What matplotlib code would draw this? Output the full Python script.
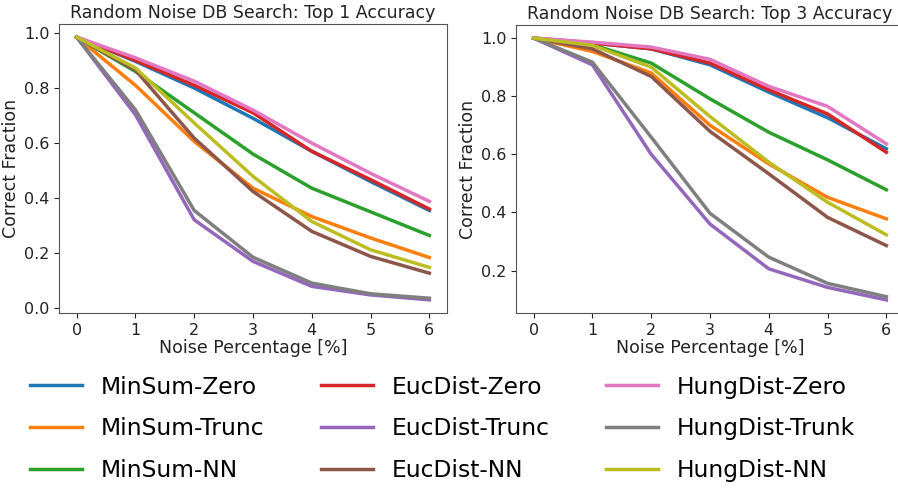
import matplotlib
matplotlib.use("Agg")
import matplotlib.pyplot as plt

# Noise levels (x axis)
noise = [0, 1, 2, 3, 4, 5, 6]

labels = ["MinSum-Zero", "MinSum-Trunc", "MinSum-NN",
          "EucDist-Zero", "EucDist-Trunc", "EucDist-NN",
          "HungDist-Zero", "HungDist-Trunk", "HungDist-NN"]
colors = ["C0", "C1", "C2", "C3", "C4", "C5", "C6", "C7", "C8"]

# Top 1 accuracy
top1_minsum_zero = [0.985, 0.897, 0.800, 0.690, 0.570, 0.460, 0.355]
top1_minsum_trunc = [0.985, 0.810, 0.606, 0.436, 0.333, 0.255, 0.184]
top1_minsum_nn = [0.985, 0.860, 0.710, 0.560, 0.436, 0.350, 0.264]
top1_eucdist_zero = [0.985, 0.900, 0.810, 0.710, 0.570, 0.467, 0.360]
top1_eucdist_trunc = [0.985, 0.703, 0.321, 0.170, 0.079, 0.048, 0.030]
top1_eucdist_nn = [0.985, 0.865, 0.618, 0.424, 0.279, 0.188, 0.127]
top1_hungdist_zero = [0.985, 0.910, 0.825, 0.720, 0.600, 0.490, 0.388]
top1_hungdist_trunk = [0.985, 0.721, 0.355, 0.185, 0.091, 0.052, 0.036]
top1_hungdist_nn = [0.985, 0.873, 0.673, 0.479, 0.315, 0.212, 0.148]

# Top 3 accuracy
top3_minsum_zero = [1.0, 0.983, 0.963, 0.908, 0.814, 0.726, 0.619]
top3_minsum_trunc = [1.0, 0.954, 0.880, 0.700, 0.567, 0.452, 0.378]
top3_minsum_nn = [1.0, 0.977, 0.914, 0.791, 0.676, 0.581, 0.478]
top3_eucdist_zero = [1.0, 0.983, 0.963, 0.914, 0.822, 0.739, 0.607]
top3_eucdist_trunc = [1.0, 0.908, 0.600, 0.360, 0.206, 0.142, 0.099]
top3_eucdist_nn = [1.0, 0.963, 0.868, 0.679, 0.533, 0.383, 0.286]
top3_hungdist_zero = [1.0, 0.986, 0.969, 0.927, 0.834, 0.765, 0.636]
top3_hungdist_trunk = [1.0, 0.917, 0.659, 0.397, 0.246, 0.156, 0.110]
top3_hungdist_nn = [1.0, 0.975, 0.900, 0.730, 0.573, 0.435, 0.323]

top1 = [top1_minsum_zero, top1_minsum_trunc, top1_minsum_nn,
        top1_eucdist_zero, top1_eucdist_trunc, top1_eucdist_nn,
        top1_hungdist_zero, top1_hungdist_trunk, top1_hungdist_nn]
top3 = [top3_minsum_zero, top3_minsum_trunc, top3_minsum_nn,
        top3_eucdist_zero, top3_eucdist_trunc, top3_eucdist_nn,
        top3_hungdist_zero, top3_hungdist_trunk, top3_hungdist_nn]

fig = plt.figure(figsize=(8.98, 4.90), dpi=100)
W, H = 898, 490

def px_axes(x0, y0, x1, y1):
    return fig.add_axes([x0 / W, 1 - y1 / H, (x1 - x0) / W, (y1 - y0) / H])

ax1 = px_axes(59, 24, 447, 313)
ax2 = px_axes(516, 25, 904, 313)

for ax, data, title in [(ax1, top1, "Random Noise DB Search: Top 1 Accuracy"),
                        (ax2, top3, "Random Noise DB Search: Top 3 Accuracy")]:
    for series, lab, col in zip(data, labels, colors):
        ax.plot(noise, series, color=col, linewidth=2.5, label=lab)
    ax.set_title(title, fontsize=12.5, pad=4, color="#222222")
    ax.set_xlabel("Noise Percentage [%]", fontsize=12.5, labelpad=1, color="#222222")
    ax.set_ylabel("Correct Fraction", fontsize=12.5, labelpad=3, color="#222222")
    ax.tick_params(labelsize=11.5, colors="#222222")
    ax.set_xticks(noise)
    for s in ax.spines.values():
        s.set_color("#555555")

handles, labs = ax1.get_legend_handles_labels()
fig.legend(handles, labs, ncol=3, loc="upper left", bbox_to_anchor=(0.01, 0.2765),
           frameon=False, handlelength=2.25, handletextpad=0.8,
           columnspacing=2.4, labelspacing=0.8, fontsize=16.8)

fig.savefig("out.png", dpi=100)
